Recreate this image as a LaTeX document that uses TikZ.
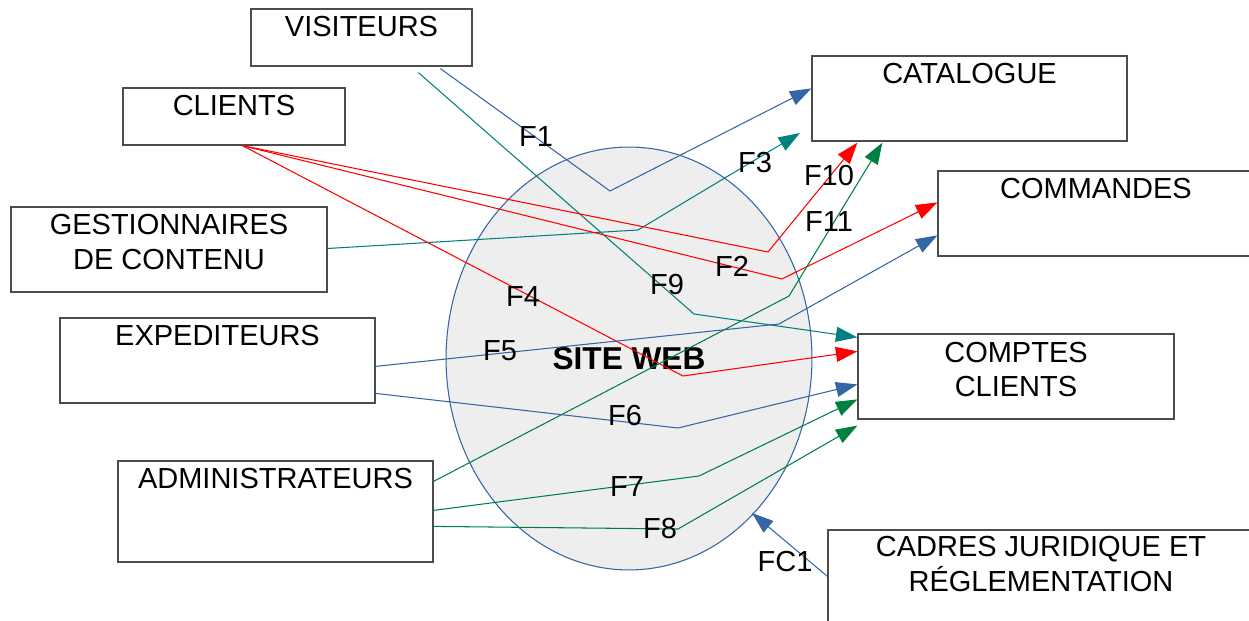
\documentclass[tikz,border=0pt]{standalone}
\usepackage{fontspec}
\setmainfont{Liberation Sans}
\usetikzlibrary{arrows.meta,shapes.geometric,calc}
\definecolor{flowblue}{RGB}{52,101,164}
\definecolor{flowteal}{RGB}{0,128,128}
\definecolor{flowred}{RGB}{255,0,0}
\definecolor{flowgreen}{RGB}{0,128,64}
\definecolor{sitefill}{RGB}{238,238,238}
\begin{document}
\begin{tikzpicture}[x=0.02cm,y=-0.02cm,
  actor/.style={draw=black!70, line width=0.7pt, fill=white, inner sep=0pt},
  boxtext/.style={font=\fontsize{16.5}{19.5}\selectfont, align=center, inner sep=0pt},
  flowlabel/.style={font=\fontsize{16.5}{19.5}\selectfont, inner sep=0pt},
  flow/.style={line width=0.6pt, -{Triangle[length=0.43cm,width=0.30cm]}},
  plain/.style={line width=0.6pt}]
\useasboundingbox (0,0) rectangle (1249,621);

% central system
\node[ellipse, draw=flowblue, line width=0.6pt, fill=sitefill,
      minimum width=7.32cm, minimum height=8.46cm, inner sep=0pt,
      font=\fontsize{18}{21}\selectfont\bfseries] (site) at (629,358.5) {SITE WEB};

% actors and data stores
\node[actor, minimum width=4.42cm, minimum height=1.14cm] (vis) at (361.5,37.5) {};
\node[actor, minimum width=4.44cm, minimum height=1.14cm] (cli) at (234,116.5) {};
\node[actor, minimum width=6.32cm, minimum height=1.70cm] (ges) at (169,249.5) {};
\node[actor, minimum width=6.30cm, minimum height=1.70cm] (exp) at (217.5,360.5) {};
\node[actor, minimum width=6.30cm, minimum height=2.02cm] (adm) at (275.5,511.5) {};
\node[actor, minimum width=6.30cm, minimum height=1.70cm] (cat) at (969.5,98.5) {};
\node[actor, minimum width=6.32cm, minimum height=1.70cm] (cmd) at (1096,213.5) {};
\node[actor, minimum width=6.32cm, minimum height=1.70cm] (cpt) at (1016,376.5) {};
\node[actor, minimum width=8.52cm, minimum height=1.90cm] (cad) at (1041,577.5) {};

\node[boxtext] (visT) at (361.5,27) {VISITEURS};
\node[boxtext] (cliT) at (234,106) {CLIENTS};
\node[boxtext] (gesT) at (169,242) {GESTIONNAIRES\\DE CONTENU};
\node[boxtext] (expT) at (217.5,336) {EXPEDITEURS};
\node[boxtext] (admT) at (275.5,479) {ADMINISTRATEURS};
\node[boxtext] (catT) at (969.5,74) {CATALOGUE};
\node[boxtext] (cmdT) at (1096,189) {COMMANDES};
\node[boxtext] (cptT) at (1016,369.5) {COMPTES\\CLIENTS};
\node[boxtext] (cadT) at (1041,564) {CADRES JURIDIQUE ET\\RÉGLEMENTATION};

% bend points of the flows
\coordinate (b1) at (610,191);
\coordinate (b9) at (694,314);
\coordinate (b3) at (638,230);
\coordinate (b10) at (768,252);
\coordinate (b2) at (782,279);
\coordinate (b4) at (683,376);
\coordinate (b11) at (789,296);
\coordinate (b5) at (779,324);
\coordinate (b6) at (678,428);
\coordinate (b7) at (699,476);
\coordinate (b8) at (678,529);
\coordinate (e3) at (800,133);
\coordinate (efc) at (752,513);

% flows
\draw[flow, flowblue]  ($(vis.south west)+(190,2)$) -- (b1) -- ($(cat.north west)+(0,33)$);
\draw[flow, flowteal]  ($(vis.south west)+(168,6)$) -- (b9) -- ($(cpt.north west)+(0,4)$);
\draw[flow, flowteal]  ($(ges.east)+(0,-1)$) -- (b3) -- (e3);
\draw[flow, flowred]   ($(cli.south west)+(120,0)$) -- (b10) -- ($(cat.south west)+(46,1)$);
\draw[flow, flowred]   ($(cli.south west)+(120,0)$) -- (b2) -- ($(cmd.north west)+(0,32)$);
\draw[flow, flowred]   ($(cli.south west)+(120,0)$) -- (b4) -- ($(cpt.north west)+(0,18)$);
\draw[flow, flowgreen] ($(adm.north east)+(0,21)$) -- (b11) -- ($(cat.south west)+(71,1)$);
\draw[flow, flowblue]  ($(exp.north east)+(0,49)$) -- (b5) -- ($(cmd.north west)+(0,65)$);
\draw[flow, flowblue]  ($(exp.north east)+(0,76)$) -- (b6) -- ($(cpt.north west)+(0,51)$);
\draw[flow, flowgreen] ($(adm.north east)+(0,50)$) -- (b7) -- ($(cpt.north west)+(0,66)$);
\draw[flow, flowgreen] ($(adm.north east)+(0,66)$) -- (b8) -- ($(cpt.south west)+(0,6)$);
\draw[flow, flowblue]  ($(cad.north west)+(0,47)$) -- (efc);

% flow labels
\node[flowlabel] (l1) at (536,137) {F1};
\node[flowlabel] (l3) at (755,163) {F3};
\node[flowlabel] (l10) at (829,176) {F10};
\node[flowlabel] (l11) at (829,222) {F11};
\node[flowlabel] (l2) at (732,266) {F2};
\node[flowlabel] (l9) at (667,285) {F9};
\node[flowlabel] (l4) at (523,297) {F4};
\node[flowlabel] (l5) at (500,351) {F5};
\node[flowlabel] (l6) at (625,416) {F6};
\node[flowlabel] (l7) at (627,487) {F7};
\node[flowlabel] (l8) at (660,529) {F8};
\node[flowlabel] (lfc) at (785,562) {FC1};
\end{tikzpicture}
\end{document}
